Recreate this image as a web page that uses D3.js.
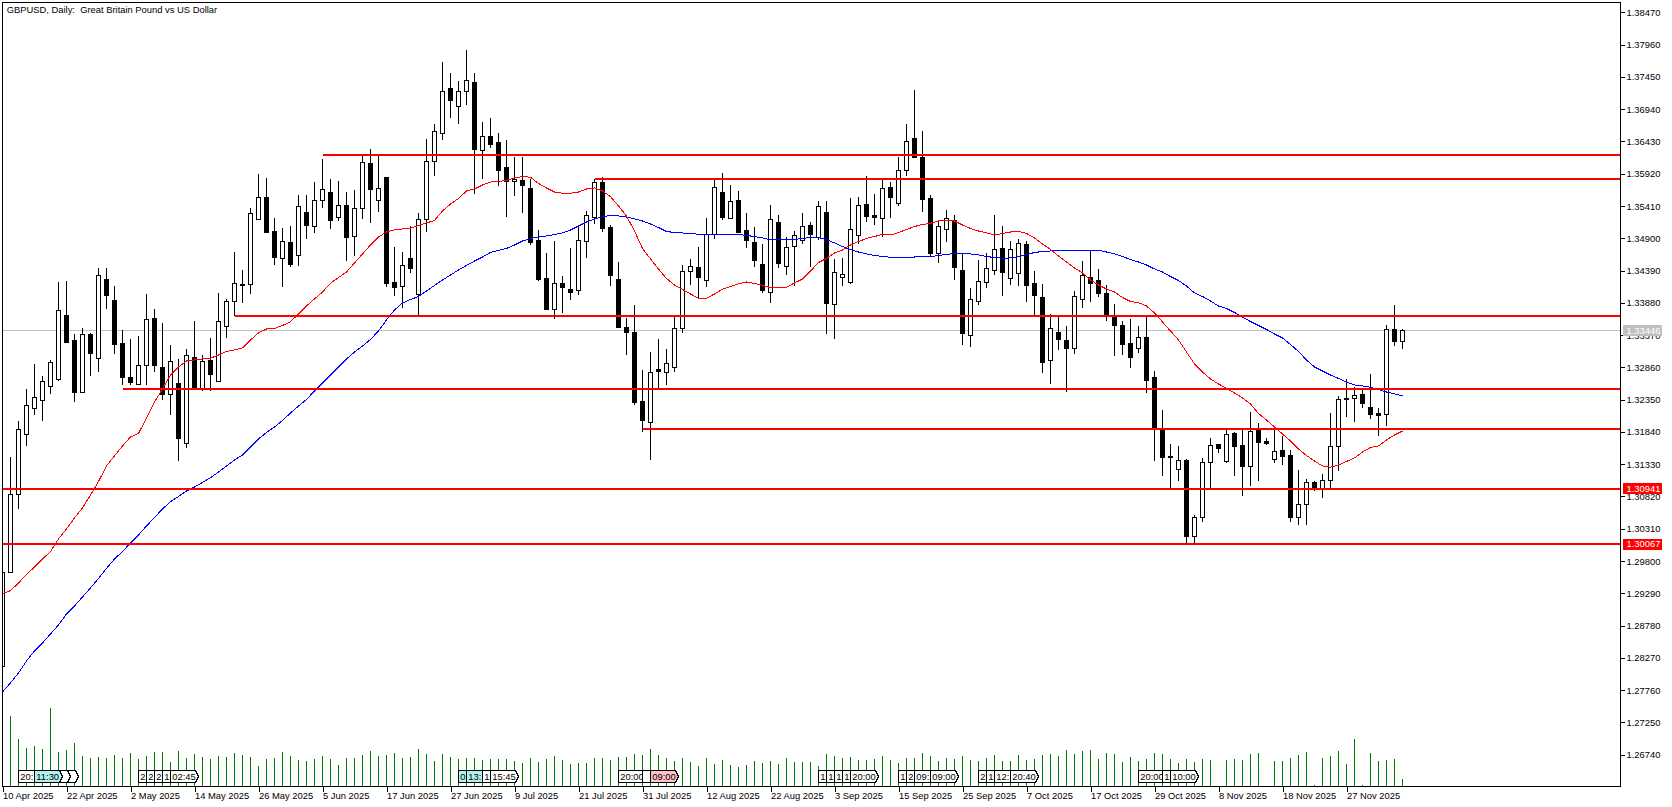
<!DOCTYPE html>
<html>
<head>
<meta charset="utf-8">
<title>GBPUSD, Daily</title>
<script src="https://d3js.org/d3.v7.min.js"></script>
<style>
body { margin: 0; background: #fff; }
text { font-family: "Liberation Sans", sans-serif; font-size: 9.4px; fill: #000; white-space: pre; }
line, rect, path { shape-rendering: crispEdges; }
</style>
</head>
<body>
<svg id="chart" width="1672" height="807"></svg>
<script>
var title = "GBPUSD, Daily:  Great Britain Pound vs US Dollar";

var highs = [1.29817,1.31444,1.32008,1.32514,1.32914,1.32724,1.32977,1.34209,1.34225,1.33383,
1.33483,1.33404,1.34431,1.34431,1.34146,1.33451,1.33304,1.33356,1.34020,1.33778,
1.33566,1.33209,1.32988,1.33146,1.33588,1.33051,1.33325,1.34031,1.33941,1.34683,
1.34399,1.35374,1.35916,1.35853,1.35221,1.35063,1.35094,1.35579,1.35579,1.35789,
1.36153,1.35837,1.35805,1.35631,1.35663,1.36211,1.36306,1.36211,1.35853,1.34762,
1.34683,1.35094,1.35295,1.36464,1.36706,1.37685,1.37507,1.37385,1.37875,1.37507,
1.36737,1.36801,1.36559,1.36453,1.36180,1.36180,1.35837,1.35031,1.34668,1.34857,
1.34304,1.34747,1.35083,1.35331,1.35837,1.35868,1.35110,1.34525,1.33641,1.33846,
1.32819,1.33103,1.33309,1.33151,1.33661,1.34478,1.34573,1.34762,1.35221,1.35837,
1.35932,1.35742,1.35647,1.35300,1.35078,1.34810,1.35426,1.35268,1.34920,1.35015,
1.35300,1.35157,1.35489,1.35489,1.34573,1.34589,1.35537,1.35552,1.35884,1.35600,
1.35821,1.35789,1.36184,1.36706,1.37243,1.36595,1.35584,1.35189,1.35347,1.35268,
1.34668,1.34115,1.34557,1.34668,1.35268,1.35094,1.34857,1.34889,1.34857,1.34383,
1.34178,1.33704,1.33661,1.33514,1.34067,1.34541,1.34715,1.34415,1.34162,1.33862,
1.33593,1.33625,1.33514,1.33656,1.32803,1.32187,1.31650,1.31618,1.31413,1.30528,
1.31429,1.31745,1.31645,1.31871,1.31839,1.31887,1.32151,1.31982,1.31740,1.31923,
1.31776,1.31555,1.31239,1.31097,1.31070,1.31171,1.32140,1.32408,1.32677,1.32546,
1.32519,1.32756,1.32219,1.33530,1.33846,1.33467];

var lows = [1.27921,1.29607,1.30628,1.31618,1.32108,1.32018,1.32440,1.32650,1.33250,1.32318,
1.32451,1.32724,1.32787,1.33788,1.33072,1.32582,1.32582,1.32582,1.32582,1.32787,
1.32345,1.32108,1.31386,1.31587,1.32503,1.32487,1.32492,1.32629,1.33325,1.33677,
1.33882,1.34020,1.35200,1.34988,1.34478,1.34135,1.34451,1.34467,1.34894,1.34988,
1.35379,1.35047,1.35178,1.34541,1.34620,1.35210,1.35146,1.35320,1.34135,1.33988,
1.33803,1.34352,1.33672,1.35004,1.35889,1.36453,1.36805,1.36711,1.37011,1.35605,
1.35837,1.36327,1.35731,1.35241,1.35573,1.35304,1.34794,1.34225,1.33767,1.33625,
1.33724,1.33925,1.34004,1.34589,1.35131,1.34999,1.34146,1.33483,1.33056,1.32266,
1.31839,1.31397,1.32530,1.32582,1.32787,1.33408,1.34162,1.33957,1.34135,1.34889,
1.35189,1.35210,1.34999,1.34747,1.34446,1.34036,1.33878,1.34431,1.34320,1.34146,
1.34810,1.34446,1.34873,1.33388,1.33309,1.34146,1.34178,1.34805,1.35157,1.35110,
1.34925,1.35221,1.35410,1.35884,1.36169,1.35315,1.34620,1.34510,1.34841,1.34241,
1.33214,1.33182,1.33846,1.34115,1.34320,1.33988,1.34162,1.34146,1.33893,1.33672,
1.32772,1.32598,1.33135,1.32471,1.33072,1.33799,1.33893,1.33972,1.33593,1.33040,
1.33056,1.32851,1.33088,1.32456,1.31381,1.31144,1.30955,1.31070,1.30081,1.30081,
1.30422,1.30950,1.31512,1.31354,1.31144,1.30828,1.30986,1.31065,1.31634,1.31354,
1.31318,1.30417,1.30370,1.30370,1.30912,1.30797,1.30950,1.31228,1.32076,1.31997,
1.32219,1.32045,1.31776,1.31934,1.33198,1.33151];

var opens = [1.28137,1.29616,1.30849,1.31797,1.32208,1.32334,1.32555,1.32661,1.33672,1.33277,
1.32460,1.33372,1.32998,1.34241,1.33909,1.33230,1.32693,1.32587,1.32893,1.33625,
1.32851,1.32429,1.32598,1.31661,1.33020,1.32530,1.32961,1.32634,1.33503,1.33904,
1.34173,1.34167,1.35200,1.35552,1.35010,1.34578,1.34841,1.34625,1.35315,1.35083,
1.35494,1.35627,1.35232,1.35421,1.34925,1.35368,1.36085,1.35494,1.35853,1.34194,
1.34135,1.34584,1.34004,1.35200,1.36116,1.36559,1.37259,1.36985,1.37222,1.37354,
1.36290,1.36516,1.36421,1.36011,1.35800,1.35816,1.35679,1.34857,1.34257,1.33772,
1.34178,1.34083,1.34072,1.34846,1.35225,1.35789,1.35063,1.34241,1.33498,1.33419,
1.32313,1.31993,1.32819,1.32783,1.32855,1.33472,1.34372,1.34431,1.34230,1.34963,
1.35616,1.35216,1.35489,1.35015,1.34826,1.34478,1.34040,1.35142,1.34451,1.34767,
1.34862,1.35094,1.34905,1.35315,1.33851,1.34277,1.34198,1.34941,1.35426,1.35252,
1.35210,1.35710,1.35447,1.35968,1.36469,1.36184,1.35521,1.34657,1.35042,1.35184,
1.34383,1.33361,1.33898,1.34198,1.34388,1.34731,1.34262,1.34341,1.34794,1.34178,
1.33972,1.32966,1.33404,1.33277,1.33156,1.33930,1.34288,1.34225,1.34020,1.33672,
1.33514,1.33230,1.33156,1.33340,1.32693,1.31887,1.31455,1.31250,1.31381,1.30185,
1.30492,1.31361,1.31634,1.31370,1.31808,1.31618,1.31291,1.31855,1.31681,1.31402,
1.31539,1.31460,1.30492,1.30697,1.31045,1.30944,1.31076,1.31607,1.32361,1.32366,
1.32424,1.32230,1.32124,1.32113,1.33462,1.33266];

var closes = [1.29623,1.30855,1.31882,1.32261,1.32388,1.32640,1.32941,1.33762,1.33261,1.32471,
1.33383,1.33072,1.34315,1.33988,1.33214,1.32693,1.32629,1.32893,1.33620,1.32882,
1.32429,1.32956,1.31729,1.33040,1.32535,1.32956,1.32740,1.33588,1.33904,1.34189,
1.34151,1.35295,1.35548,1.34988,1.34593,1.34852,1.34478,1.35405,1.35094,1.35500,
1.35674,1.35178,1.35421,1.34920,1.35374,1.36101,1.35668,1.35690,1.34183,1.34130,
1.34473,1.34415,1.35189,1.36116,1.36590,1.37222,1.37074,1.37222,1.37396,1.36300,
1.36511,1.36379,1.35968,1.35794,1.35832,1.35731,1.34826,1.34241,1.33767,1.34189,
1.34115,1.34040,1.34868,1.35263,1.35785,1.35047,1.34304,1.33483,1.33419,1.32298,
1.32013,1.32783,1.32792,1.32925,1.33478,1.34378,1.34457,1.34288,1.34963,1.35706,
1.35221,1.35484,1.34999,1.34857,1.34541,1.34067,1.35200,1.34494,1.34758,1.34947,
1.35089,1.34952,1.35405,1.33862,1.34363,1.34320,1.35042,1.35421,1.35241,1.35225,
1.35690,1.35537,1.35974,1.36432,1.36184,1.35505,1.34652,1.35089,1.35216,1.34431,
1.33388,1.33936,1.34220,1.34426,1.34726,1.34352,1.34726,1.34821,1.34146,1.33988,
1.32945,1.33478,1.33293,1.33151,1.33983,1.34315,1.34178,1.34020,1.33672,1.33514,
1.33214,1.33009,1.33336,1.32645,1.31903,1.31429,1.31429,1.31392,1.30185,1.30492,
1.31361,1.31629,1.31576,1.31803,1.31607,1.31291,1.31850,1.31670,1.31650,1.31534,
1.31449,1.30492,1.30697,1.31045,1.30944,1.31076,1.31607,1.32356,1.32345,1.32419,
1.32282,1.32113,1.32097,1.33462,1.33266,1.33446];

var maRed = [1.29288,1.29332,1.29454,1.29588,1.29706,1.29833,1.29951,1.30149,1.30307,1.30481,
1.30639,1.30844,1.31057,1.31302,1.31460,1.31618,1.31760,1.31816,1.32061,1.32313,
1.32519,1.32740,1.32866,1.32961,1.32977,1.32993,1.33004,1.33056,1.33111,1.33135,
1.33167,1.33293,1.33404,1.33467,1.33475,1.33522,1.33582,1.33704,1.33830,1.33941,
1.34051,1.34189,1.34280,1.34367,1.34510,1.34652,1.34794,1.34920,1.34999,1.35034,
1.35047,1.35058,1.35102,1.35142,1.35181,1.35331,1.35442,1.35529,1.35647,1.35679,
1.35742,1.35789,1.35797,1.35813,1.35853,1.35876,1.35864,1.35766,1.35695,1.35631,
1.35611,1.35611,1.35631,1.35679,1.35695,1.35647,1.35557,1.35410,1.35252,1.35015,
1.34739,1.34573,1.34415,1.34265,1.34162,1.34091,1.34020,1.33952,1.33952,1.34020,
1.34094,1.34138,1.34178,1.34209,1.34186,1.34154,1.34122,1.34115,1.34126,1.34194,
1.34257,1.34383,1.34517,1.34581,1.34668,1.34715,1.34794,1.34849,1.34897,1.34928,
1.34960,1.34952,1.34991,1.35039,1.35086,1.35118,1.35137,1.35173,1.35173,1.35173,
1.35110,1.35055,1.35015,1.34984,1.34952,1.34976,1.34999,1.35010,1.34976,1.34905,
1.34810,1.34723,1.34620,1.34525,1.34431,1.34352,1.34241,1.34162,1.34099,1.34051,
1.33964,1.33901,1.33882,1.33830,1.33720,1.33577,1.33435,1.33293,1.33103,1.32914,
1.32787,1.32677,1.32598,1.32530,1.32456,1.32377,1.32282,1.32132,1.32029,1.31918,
1.31808,1.31697,1.31571,1.31468,1.31381,1.31302,1.31282,1.31318,1.31373,1.31429,
1.31523,1.31594,1.31618,1.31713,1.31792,1.31855];

var maBlue = [1.27731,1.27874,1.28032,1.28221,1.28379,1.28506,1.28648,1.28790,1.28964,1.29090,
1.29232,1.29375,1.29525,1.29683,1.29833,1.29951,1.30086,1.30212,1.30354,1.30488,
1.30623,1.30738,1.30820,1.30907,1.30970,1.31041,1.31117,1.31207,1.31302,1.31397,
1.31476,1.31602,1.31729,1.31831,1.31918,1.32021,1.32140,1.32250,1.32353,1.32487,
1.32614,1.32740,1.32866,1.32993,1.33103,1.33198,1.33301,1.33435,1.33609,1.33767,
1.33878,1.33933,1.33980,1.34067,1.34154,1.34241,1.34320,1.34399,1.34470,1.34541,
1.34604,1.34675,1.34710,1.34739,1.34794,1.34857,1.34897,1.34920,1.34936,1.34960,
1.34984,1.35031,1.35094,1.35157,1.35205,1.35244,1.35257,1.35252,1.35236,1.35205,
1.35173,1.35126,1.35070,1.35007,1.34991,1.34984,1.34976,1.34963,1.34960,1.34952,
1.34952,1.34963,1.34960,1.34944,1.34928,1.34905,1.34873,1.34873,1.34873,1.34881,
1.34897,1.34912,1.34912,1.34881,1.34826,1.34770,1.34723,1.34683,1.34652,1.34628,
1.34612,1.34600,1.34600,1.34604,1.34604,1.34608,1.34610,1.34628,1.34644,1.34660,
1.34660,1.34652,1.34636,1.34612,1.34596,1.34584,1.34589,1.34612,1.34644,1.34675,
1.34691,1.34699,1.34707,1.34707,1.34707,1.34707,1.34710,1.34710,1.34683,1.34652,
1.34612,1.34565,1.34525,1.34478,1.34415,1.34367,1.34296,1.34233,1.34146,1.34036,
1.33980,1.33909,1.33830,1.33791,1.33727,1.33656,1.33585,1.33522,1.33459,1.33388,
1.33325,1.33222,1.33111,1.32977,1.32866,1.32803,1.32740,1.32685,1.32629,1.32582,
1.32566,1.32546,1.32511,1.32471,1.32440,1.32413];

var volumes = [80,211,141,114,121,111,235,103,108,130,91,85,87,84,94,84,100,82,91,103,
103,73,106,85,97,88,82,91,88,100,94,88,61,82,85,103,91,79,76,82,
91,82,64,85,85,94,106,91,94,100,85,88,112,97,76,97,88,82,85,85,
79,82,82,82,76,70,85,73,82,91,79,67,70,70,85,85,79,88,88,97,
94,112,94,85,76,85,73,61,85,67,79,64,58,64,76,70,76,67,85,73,
73,73,61,97,91,85,88,79,79,82,91,79,70,85,85,100,91,76,85,82,
91,79,76,85,94,76,76,94,79,82,94,97,91,109,97,106,109,82,100,97,
73,88,76,82,100,97,82,70,82,73,82,79,0,79,82,79,97,100,0,76,
76,85,94,103,4,85,91,106,67,142,4,100,76,79,82,22];

// horizontal levels drawn by hand: price and the bar they start from
var levelPrices = [1.36216,1.35837,1.33677,1.32519,1.31887,1.30941,1.30067];
var levelStart = [40,74,29,15,80,0,0];

var lastPrice = 1.33446;
var boxedPrices = [1.30941,1.30067];

var priceTicks = [1.38470,1.37960,1.37450,1.36940,1.36430,1.35920,1.35410,1.34900,1.34390,1.33880,
1.33370,1.32860,1.32350,1.31840,1.31330,1.30820,1.30310,1.29800,1.29290,1.28780,1.28270,1.27760,1.27250,1.26740];

var dateTickBars = [0,8,16,24,32,40,48,56,64,72,80,88,96,104,112,120,128,136,144,152,160,168];
var dateTickLabels = ["10 Apr 2025","22 Apr 2025","2 May 2025","14 May 2025","26 May 2025","5 Jun 2025","17 Jun 2025",
"27 Jun 2025","9 Jul 2025","21 Jul 2025","31 Jul 2025","12 Aug 2025","22 Aug 2025","3 Sep 2025","15 Sep 2025",
"25 Sep 2025","7 Oct 2025","17 Oct 2025","29 Oct 2025","8 Nov 2025","18 Nov 2025","27 Nov 2025"];

// calendar event tags along the bottom, later ones paint over earlier ones
// text is only what stays readable on the chart
var tagBars = [2,6,5,4, 17,18,19,20,21, 57,58,60,61, 77,80,81, 102,103,104,105,106, 112,113,114,116, 122,123,124,126, 142,145,146];
var tagTexts = ["20:","","","11:30", "2","2","2","1","02:45", "0","13:","1","15:45",
"20:00","","09:00", "1","1","1","1","20:00", "1","2","09:","09:00",
"2","1","12:","20:40", "20:00","1","10:00"];
var tagKinds = ["w","w","w","c", "w","w","w","w","w", "c","c","w","w", "w","w","p", "w","w","w","w","w",
"w","w","w","w", "w","w","w","w", "w","w","w"];
var tagFill = {w: "#ffffff", c: "#b0f0f0", p: "#ffc0cb"};

var left = 2.5, top_ = 2.5, right = 1620.5, bottom = 786.5;

var x = d3.scaleLinear().domain([0, 175]).range([2.5, 1402.5]);
var y = d3.scaleLinear().domain([1.38470, 1.26740]).range([12.34, 754.7]);
var yVol = d3.scaleLinear().domain([0, 235]).range([bottom, 708]);

var svg = d3.select("#chart");

svg.append("defs").append("clipPath").attr("id", "plot")
    .append("rect").attr("x", left).attr("y", top_).attr("width", right - left).attr("height", bottom - top_);

var plot = svg.append("g").attr("clip-path", "url(#plot)");

// last price line sits behind the bars
plot.append("line")
    .attr("x1", left).attr("x2", right)
    .attr("y1", y(lastPrice)).attr("y2", y(lastPrice))
    .attr("stroke", "#c0c0c0").attr("stroke-width", 1);

// volumes
plot.append("g").selectAll("line")
    .data(volumes)
    .enter().append("line")
    .attr("x1", function(d, i) { return x(i); })
    .attr("x2", function(d, i) { return x(i); })
    .attr("y1", function(d) { return yVol(d); })
    .attr("y2", bottom)
    .attr("stroke", "#008000").attr("stroke-width", 1);

// candles
var bars = plot.append("g").selectAll("g")
    .data(opens)
    .enter().append("g");

bars.append("line")
    .attr("x1", function(d, i) { return x(i); })
    .attr("x2", function(d, i) { return x(i); })
    .attr("y1", function(d, i) { return y(highs[i]); })
    .attr("y2", function(d, i) { return y(lows[i]); })
    .attr("stroke", "#000").attr("stroke-width", 1);

bars.append("rect")
    .attr("x", function(d, i) { return x(i) - 2; })
    .attr("width", 4)
    .attr("y", function(d, i) { return y(Math.max(opens[i], closes[i])); })
    .attr("height", function(d, i) { return Math.abs(y(opens[i]) - y(closes[i])); })
    .attr("fill", function(d, i) { return closes[i] >= opens[i] ? "#fff" : "#000"; })
    .attr("stroke", "#000").attr("stroke-width", 1);

// moving averages
var maLine = d3.line()
    .x(function(d, i) { return x(i); })
    .y(function(d) { return y(d); });

plot.append("path").attr("d", maLine(maBlue))
    .attr("fill", "none").attr("stroke", "#0000ff").attr("stroke-width", 1);
plot.append("path").attr("d", maLine(maRed))
    .attr("fill", "none").attr("stroke", "#ff0000").attr("stroke-width", 1);

// levels
plot.append("g").selectAll("line")
    .data(levelPrices)
    .enter().append("line")
    .attr("x1", function(d, i) { return levelStart[i] == 0 ? left : x(levelStart[i]); })
    .attr("x2", right)
    .attr("y1", function(d) { return y(d); })
    .attr("y2", function(d) { return y(d); })
    .attr("stroke", "#ff0000").attr("stroke-width", 2);

// event tags
var tags = plot.append("g").selectAll("g")
    .data(tagBars)
    .enter().append("g")
    .attr("transform", function(d) { return "translate(" + x(d) + ",770.5)"; });

tags.append("path")
    .attr("d", "M0,0 H25 L28,6 L25,12 H0 Z")
    .attr("fill", function(d, i) { return tagFill[tagKinds[i]]; })
    .attr("stroke", "#000").attr("stroke-width", 1);

tags.append("text")
    .attr("x", 1.8).attr("y", 9.5)
    .text(function(d, i) { return tagTexts[i]; });

// axes
var priceAxis = d3.axisRight(y)
    .tickValues(priceTicks)
    .tickSize(4)
    .tickPadding(2)
    .tickFormat(d3.format(".5f"));

var gy = svg.append("g").attr("transform", "translate(" + right + ",0)").call(priceAxis);
gy.select(".domain").remove();

var dateAxis = d3.axisBottom(x)
    .tickValues(dateTickBars)
    .tickSize(5)
    .tickPadding(2)
    .tickFormat(function(d, i) { return dateTickLabels[i]; });

var gx = svg.append("g").attr("transform", "translate(0," + bottom + ")").call(dateAxis);
gx.select(".domain").remove();
gx.selectAll("text").attr("text-anchor", "start");
gx.selectAll("text").attr("dy", "0.62em");

// chart frame
svg.append("rect")
    .attr("x", left).attr("y", top_)
    .attr("width", right - left).attr("height", bottom - top_)
    .attr("fill", "none").attr("stroke", "#000").attr("stroke-width", 1);

// price boxes on the scale
function priceBox(price, colour) {
    svg.append("rect")
        .attr("x", right + 2).attr("y", y(price) - 5.5)
        .attr("width", 39).attr("height", 11)
        .attr("fill", colour);
    svg.append("text")
        .attr("x", right + 6).attr("y", y(price) + 3.3)
        .style("fill", "#fff")
        .text(d3.format(".5f")(price));
}
priceBox(lastPrice, "#c0c0c0");
boxedPrices.forEach(function(p) { priceBox(p, "#ff0000"); });

svg.append("text")
    .attr("x", 6.7).attr("y", 13)
    .text(title);
</script>
</body>
</html>
